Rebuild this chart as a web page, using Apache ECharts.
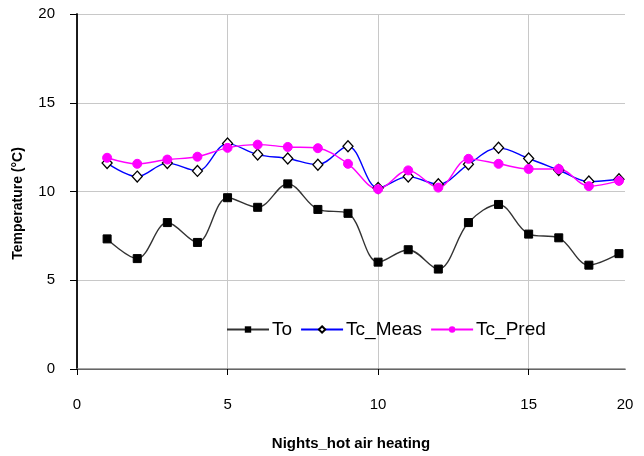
<!DOCTYPE html>
<html>
<head>
<meta charset="utf-8">
<script src="https://cdn.jsdelivr.net/npm/echarts@6/dist/echarts.min.js"></script>
<style>
html,body{margin:0;padding:0;background:#fff;}
#chart{width:644px;height:456px;}
</style>
</head>
<body>
<div id="chart"></div>
<script>
const nights = [1,2,3,4,5,6,7,8,9,10,11,12,13,14,15,16,17,18];
const To      = [7.33,6.22,8.25,7.13,9.65,9.11,10.43,8.99,8.77,6.02,6.72,5.63,8.25,9.27,7.60,7.39,5.85,6.50];
const TcMeas  = [11.60,10.84,11.60,11.16,12.70,12.08,11.86,11.51,12.55,10.20,10.84,10.41,11.53,12.46,11.86,11.21,10.56,10.69];
const TcPred  = [11.90,11.56,11.80,11.96,12.46,12.64,12.51,12.44,11.56,10.13,11.19,10.22,11.84,11.56,11.27,11.27,10.30,10.60];
const yTicks = [0,5,10,15,20];
const xTickLabels = ['0','5','10','15','20'];

const font = '"Liberation Sans", Arial, sans-serif';
const pairs = arr => nights.map((n,i)=>[n,arr[i]]);
const xMax = 18.2;

const chart = echarts.init(document.getElementById('chart'), null, {renderer:'canvas'});
chart.setOption({
  animation:false,
  backgroundColor:'#fff',
  textStyle:{fontFamily:font},
  grid:{left:77,right:19,top:14,bottom:83,containLabel:false},
  legend:{
    left:221, top:315, itemWidth:42, itemHeight:8, itemGap:8,
    textStyle:{fontSize:19,color:'#000',fontFamily:font, padding:[0,0,0,-2]},
    data:['To','Tc_Meas','Tc_Pred']
  },
  xAxis:[{
    type:'value', min:0, max:xMax, interval:5,
    name:'Nights_hot air heating', nameLocation:'middle', nameGap:67,
    nameTextStyle:{fontSize:15,fontWeight:'bold',color:'#000',fontFamily:font},
    axisLine:{lineStyle:{color:'#000',width:1}},
    axisTick:{show:true,inside:false,length:6,lineStyle:{color:'#000'},customValues:[0,5,10,15]},
    axisLabel:{fontSize:15,color:'#000',margin:28,fontFamily:font,
      customValues:[0,5,10,15,xMax],
      formatter:v=> v>16 ? xTickLabels[4] : String(Math.round(v))},
    splitLine:{show:true,lineStyle:{color:'#c8c8c8',width:1}}
  },{
    type:'value', position:'top', min:0, max:xMax,
    axisLine:{show:true,lineStyle:{color:'#888',width:1.5}},
    axisTick:{show:false}, axisLabel:{show:false}, splitLine:{show:false}
  }],
  yAxis:[{
    type:'value', min:0, max:20, interval:5,
    name:'Temperature (°C)', nameLocation:'middle', nameGap:52, nameRotate:90,
    nameTextStyle:{fontSize:14,fontWeight:'bold',color:'#000',fontFamily:font,padding:[0,24,0,0]},
    axisLine:{show:true,lineStyle:{color:'#444',width:1.5}},
    axisTick:{show:true,inside:false,length:7,lineStyle:{color:'#000'}},
    axisLabel:{fontSize:15,color:'#000',margin:22,fontFamily:font,
      formatter:v=>String(yTicks.includes(v)?v:'')},
    splitLine:{show:true,lineStyle:{color:'#c8c8c8',width:1}}
  },{
    type:'value', position:'right', min:0, max:20,
    axisLine:{show:true,lineStyle:{color:'#000',width:1.5}},
    axisTick:{show:false}, axisLabel:{show:false}, splitLine:{show:false}
  }],
  series:[{
    name:'To', type:'line', data:pairs(To), smooth:0.35,
    symbol:'rect', symbolSize:8, showAllSymbol:true,
    lineStyle:{color:'#333',width:1.4},
    itemStyle:{color:'#000',borderColor:'#000'}
  },{
    name:'Tc_Meas', type:'line', data:pairs(TcMeas), smooth:0.35,
    symbol:'diamond', symbolSize:[10,11], showAllSymbol:true,
    lineStyle:{color:'#0000ff',width:1.4},
    itemStyle:{color:'#fff',borderColor:'#000',borderWidth:1.3}
  },{
    name:'Tc_Pred', type:'line', data:pairs(TcPred), smooth:0.35,
    symbol:'circle', symbolSize:9, showAllSymbol:true,
    lineStyle:{color:'#ff00ff',width:1.4},
    itemStyle:{color:'#ff00ff',borderColor:'#ff00ff'}
  }]
});
</script>
</body>
</html>
